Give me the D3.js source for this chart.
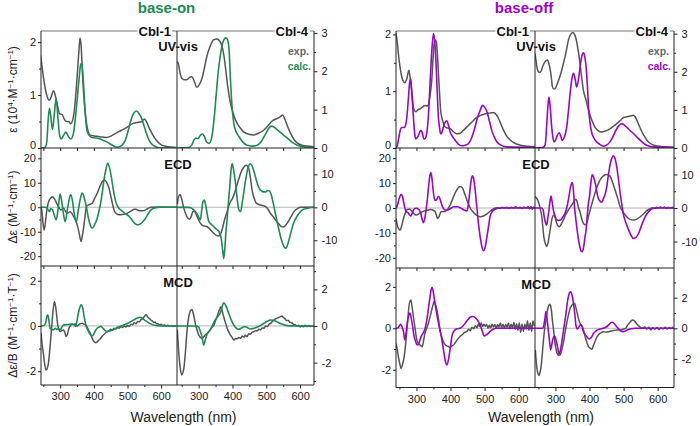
<!DOCTYPE html>
<html>
<head>
<meta charset="utf-8">
<script src="https://cdn.jsdelivr.net/npm/d3@7"></script>
<style>
  body { margin: 0; background: #fff; }
  svg { display: block; font-family: "Liberation Sans", Arial, sans-serif; }
</style>
</head>
<body>
<svg id="chart" width="700" height="426"></svg>
<script>
// ---------- data: [wavelength nm, value] ----------
// base-on, UV-vis (Cbl-1 left axis 10^4 M-1 cm-1, Cbl-4 right axis)
var onUvExp1 = [[242,1.75],[250,1.35],[260,1.0],[268,0.9],[274,0.98],[280,1.08],[286,0.98],[292,0.8],[298,0.65],[306,0.63],[312,0.55],[318,0.5],[325,0.5],[331,0.46],[338,0.55],[345,0.9],[352,1.5],[357,1.95],[359,2.08],[362,1.95],[367,1.3],[374,0.69],[380,0.4],[388,0.25],[398,0.23],[408,0.22],[420,0.21],[437,0.2],[452,0.23],[466,0.28],[481,0.33],[496,0.38],[515,0.46],[535,0.49],[543,0.5],[550,0.55],[556,0.5],[565,0.37],[575,0.25],[585,0.15],[600,0.06],[615,0.03],[645,0.01]];
var onUvCalc1 = [[243,0],[255,0.01],[260,0.1],[264,0.5],[268,0.75],[272,0.6],[277,0.35],[282,0.6],[288,0.94],[293,0.6],[298,0.25],[303,0.17],[310,0.24],[317,0.3],[324,0.22],[332,0.17],[340,0.3],[348,0.75],[356,1.3],[361,1.58],[364,1.6],[368,1.35],[373,0.8],[379,0.35],[386,0.24],[394,0.2],[405,0.19],[419,0.17],[433,0.13],[448,0.08],[462,0.03],[473,0.02],[483,0.05],[493,0.14],[503,0.35],[513,0.58],[520,0.67],[527,0.7],[534,0.65],[542,0.56],[549,0.42],[556,0.28],[563,0.16],[571,0.08],[585,0.02],[600,0],[645,0]];
var onUvExp4 = [[237,2.25],[240,2.2],[245,1.95],[250,1.82],[258,1.78],[265,1.78],[273,1.84],[280,1.86],[287,1.74],[295,1.58],[302,1.65],[310,1.82],[317,2.08],[324,2.38],[334,2.65],[344,2.82],[354,2.84],[362,2.79],[368,2.68],[374,2.45],[379,2.12],[386,1.6],[394,1.17],[404,0.85],[414,0.64],[423,0.52],[433,0.42],[448,0.36],[463,0.34],[478,0.39],[493,0.47],[505,0.58],[518,0.71],[533,0.77],[542,0.82],[548,0.86],[555,0.75],[563,0.56],[573,0.36],[583,0.21],[593,0.12],[603,0.08],[620,0.05],[640,0.03]];
var onUvCalc4 = [[237,0],[270,0.01],[280,0.08],[287,0.22],[292,0.26],[298,0.24],[305,0.33],[311,0.37],[317,0.3],[324,0.15],[331,0.12],[338,0.25],[345,0.7],[352,1.4],[358,2.0],[364,2.4],[370,2.7],[376,2.84],[381,2.87],[386,2.8],[390,2.55],[394,1.8],[399,1.05],[404,0.64],[411,0.42],[419,0.3],[430,0.16],[443,0.07],[458,0.05],[473,0.07],[485,0.17],[498,0.37],[508,0.52],[515,0.57],[522,0.55],[533,0.47],[548,0.36],[563,0.25],[578,0.14],[592,0.07],[610,0.03],[640,0.01]];

// base-on, ECD
var onEcdExp1 = [[243,0.3],[246,-2],[249,-6.5],[252,-9.3],[255,-7.5],[259,-2.5],[264,1.5],[268,3.0],[273,4.0],[277,4.3],[281,3.8],[285,3.0],[290,1.5],[295,0.3],[302,-1.1],[306,-0.8],[310,-0.4],[315,-1.5],[320,-2.4],[325,-2.2],[330,-1.8],[335,-2.6],[340,-3.8],[346,-5.5],[352,-7.9],[357,-11],[362,-14],[366,-11.5],[370,-7.9],[374,-3.5],[378,0.3],[385,1.0],[395,1.6],[402,3.5],[410,5.7],[418,8.5],[425,10.5],[432,11.1],[438,10.2],[445,7.8],[452,3.5],[460,-1.1],[467,-2.6],[475,-3.1],[485,-3.0],[500,-2.4],[512,-1.5],[520,-0.8],[525,-0.8],[532,-1.3],[540,-1.4],[550,-1.3],[560,-0.6],[570,0],[590,0.1],[645,0]];
var onEcdCalc1 = [[243,0],[255,0],[262,-0.5],[268,-1.8],[272,-0.5],[277,-1.0],[283,-3.5],[288,-5.2],[293,-1.5],[296,2.0],[300,5.4],[305,2.0],[310,-3.0],[315,-5.9],[320,-2.0],[325,2.0],[331,5.2],[336,3.0],[341,-2.0],[348,-5.9],[354,-1.0],[360,3.5],[365,5.8],[369,5.0],[374,2.5],[378,0],[384,-4.5],[390,-7.5],[395,-8.6],[401,-7.5],[410,-4.5],[416,-1.0],[420,1.6],[425,6],[430,11.1],[436,15.5],[441,18],[446,16.5],[452,12.4],[458,7],[465,2.3],[472,0],[480,-1.1],[492,-2.5],[505,-3.8],[515,-5.5],[523,-6.8],[530,-7.2],[538,-6.8],[546,-5.8],[552,-4.8],[560,-3.0],[570,-1.1],[580,-0.3],[600,0],[645,0]];
var onEcdExp4 = [[237,1.0],[240,3.0],[245,3.9],[250,2.5],[255,0.2],[260,-1.5],[265,-2.8],[273,-3.6],[278,-2.8],[283,-1.3],[288,-1.2],[294,-2.5],[300,-3.8],[305,-4.8],[310,-5.4],[318,-5.7],[325,-5.9],[335,-6.8],[345,-7.9],[352,-8.5],[359,-8.7],[364,-8.3],[369,-6.9],[376,-4.0],[384,-1.3],[389,0.5],[394,1.7],[399,2.5],[404,3.7],[414,7.0],[424,10.3],[432,12.0],[440,12.8],[448,11.8],[453,9.0],[458,5.2],[464,2.8],[471,1.2],[483,0.7],[498,0.2],[505,-0.6],[512,-1.8],[520,-2.8],[527,-3.8],[535,-4.8],[543,-5.7],[550,-6.0],[556,-5.6],[562,-4.8],[572,-3.0],[582,-1.3],[592,-0.4],[602,0],[640,0]];
var onEcdCalc4 = [[237,0],[270,0],[280,-0.3],[290,-1.3],[298,-2.5],[305,-3.8],[309,-1.0],[313,1.8],[317,2.2],[321,0.5],[326,-2.5],[330,-4.3],[338,-5.2],[345,-5.9],[352,-6.6],[360,-7.4],[366,-9],[371,-13],[374,-15.5],[377,-13],[381,-7],[384,-3.8],[388,1.5],[392,6.3],[396,11.5],[399,13.3],[403,11.5],[409,7.3],[414,2.5],[419,-0.8],[424,-1.3],[429,1.5],[434,5],[440,9],[446,12],[452,13.2],[457,12.8],[463,11],[470,8.5],[477,6.2],[485,5.0],[492,4.7],[498,4.7],[504,5.1],[509,5.0],[514,4.0],[520,1.5],[526,-1.5],[533,-4.8],[540,-8],[548,-10.9],[554,-12.2],[558,-12.4],[564,-11],[572,-7.9],[580,-5],[590,-2.8],[597,-1.8],[610,-0.6],[622,-0.3],[640,0]];

// base-on, MCD
var onMcdExp1 = [[243,-0.3],[247,-0.9],[250,-1.2],[254,-1.7],[258,-1.95],[262,-1.85],[265,-1.65],[270,-0.9],[275,0],[279,0.7],[283,1.08],[287,0.8],[292,0.12],[296,-0.15],[300,-0.25],[305,-0.2],[310,-0.18],[314,-0.3],[318,-0.47],[322,-0.35],[326,-0.1],[330,0],[335,0.08],[340,0.05],[345,0.1],[350,0],[355,0.05],[360,0.1],[365,0.12],[370,0.08],[375,0.05],[380,-0.05],[385,-0.2],[390,-0.35],[395,-0.55],[400,-0.68],[405,-0.74],[410,-0.7],[415,-0.62],[420,-0.55],[425,-0.45],[430,-0.38],[435,-0.3],[440,-0.25],[445,-0.22],[450,-0.15],[455,-0.18],[460,-0.1],[465,-0.14],[470,-0.06],[475,-0.1],[480,-0.02],[485,-0.07],[490,0],[495,-0.05],[500,0.02],[505,-0.02],[510,0.08],[515,0.05],[520,0.14],[525,0.1],[530,0.2],[535,0.18],[540,0.28],[545,0.32],[550,0.42],[555,0.49],[558,0.45],[562,0.36],[566,0.32],[570,0.25],[574,0.22],[578,0.15],[582,0.17],[586,0.1],[590,0.1],[595,0.05],[600,0.07],[605,0.02],[610,0.04],[615,0],[620,0.03],[625,-0.01],[630,0.02],[635,-0.02],[640,0.01],[645,0]];
var onMcdCalc1 = [[243,0],[252,0.02],[257,0.15],[260,0.4],[263,0.49],[266,0.3],[270,-0.1],[275,-0.15],[280,-0.18],[285,-0.1],[290,-0.15],[295,-0.12],[300,-0.18],[305,-0.05],[310,0.04],[318,0.06],[326,0.07],[335,0.08],[342,0.05],[346,-0.02],[352,0.41],[357,0.75],[362,0.93],[366,0.85],[372,0.34],[377,0],[382,-0.18],[390,-0.4],[395,-0.44],[400,-0.35],[405,-0.2],[410,-0.1],[416,-0.05],[421,-0.02],[428,-0.12],[435,-0.22],[440,-0.25],[447,-0.22],[455,-0.18],[470,-0.08],[490,0.05],[505,0.15],[519,0.27],[530,0.35],[537,0.38],[545,0.33],[552,0.25],[560,0.17],[570,0.08],[585,0.02],[600,0],[645,0]];
var onMcdExp4 = [[237,-0.2],[240,-1.13],[245,-2.2],[250,-2.67],[254,-2.5],[257,-2.2],[261,-1.4],[265,-0.4],[269,0.3],[273,0.69],[277,0.88],[280,0.91],[284,0.7],[290,0.15],[295,-0.2],[300,-0.49],[305,-0.62],[310,-0.67],[315,-0.6],[320,-0.48],[325,-0.42],[330,-0.31],[338,-0.1],[345,0.05],[350,0.3],[354,0.5],[360,0.82],[366,1.05],[370,0.8],[374,0.51],[379,0.2],[384,-0.1],[389,-0.32],[394,-0.49],[399,-0.62],[404,-0.76],[409,-0.68],[414,-0.7],[419,-0.62],[424,-0.67],[429,-0.55],[434,-0.6],[438,-0.5],[443,-0.58],[448,-0.42],[453,-0.45],[458,-0.33],[463,-0.31],[468,-0.25],[473,-0.27],[478,-0.18],[483,-0.2],[488,-0.1],[493,-0.12],[498,0],[503,-0.03],[508,0.1],[513,0.15],[518,0.25],[523,0.33],[528,0.4],[534,0.45],[540,0.5],[546,0.55],[550,0.48],[555,0.4],[560,0.3],[565,0.3],[570,0.2],[575,0.18],[580,0.1],[585,0.08],[590,0],[595,0.04],[600,-0.05],[605,0.03],[610,-0.04],[615,0.04],[620,-0.02],[625,0.03],[630,-0.03],[635,0.02],[640,0]];
var onMcdCalc4 = [[237,0],[290,0],[300,-0.05],[305,-0.3],[310,-0.58],[315,-1.04],[319,-0.8],[324,-0.49],[330,-0.3],[334,-0.22],[340,0],[345,0.2],[349,0.33],[355,0.5],[360,0.6],[364,0.72],[368,0.95],[371,1.15],[374,1.27],[378,1.2],[383,1.0],[389,0.69],[396,0.35],[404,0.05],[411,-0.12],[419,-0.18],[427,-0.1],[435,-0.04],[441,-0.05],[447,-0.12],[453,-0.16],[460,-0.14],[470,-0.08],[480,0],[493,0.15],[503,0.26],[512,0.33],[520,0.32],[530,0.25],[540,0.15],[555,0.05],[570,0.01],[600,0],[640,0]];

// base-off, UV-vis
var offUvExp1 = [[240,2.02],[244,1.85],[247,1.66],[252,1.42],[257,1.25],[262,1.17],[266,1.15],[270,1.19],[273,1.25],[276,1.34],[278,1.37],[280,1.3],[284,1.14],[288,0.9],[291,0.72],[295,0.65],[298,0.64],[304,0.67],[311,0.69],[318,0.72],[325,0.75],[332,0.74],[336,0.78],[340,0.92],[345,1.2],[349,1.6],[352,1.84],[355,1.9],[358,1.88],[361,1.7],[364,1.37],[368,0.95],[371,0.66],[377,0.48],[384,0.37],[392,0.35],[399,0.34],[408,0.29],[418,0.25],[428,0.26],[438,0.31],[448,0.37],[458,0.43],[468,0.49],[477,0.54],[487,0.57],[497,0.59],[511,0.61],[520,0.62],[528,0.62],[535,0.58],[541,0.52],[548,0.42],[556,0.31],[565,0.21],[575,0.14],[590,0.08],[605,0.05],[625,0.03],[648,0.02]];
var offUvCalc1 = [[240,0],[244,0.05],[247,0.14],[252,0.3],[257,0.36],[264,0.36],[268,0.4],[272,0.55],[276,0.84],[280,1.15],[283,1.22],[286,1.0],[291,0.55],[295,0.25],[298,0.16],[302,0.18],[306,0.22],[310,0.29],[313,0.31],[317,0.27],[322,0.16],[326,0.17],[330,0.25],[335,0.55],[340,1.14],[345,1.7],[350,2.02],[354,1.85],[358,1.43],[361,1.0],[364,0.58],[368,0.35],[371,0.25],[375,0.28],[379,0.37],[384,0.45],[389,0.48],[394,0.4],[399,0.28],[406,0.2],[413,0.14],[423,0.07],[433,0.04],[443,0.05],[453,0.08],[462,0.18],[472,0.37],[480,0.55],[487,0.66],[494,0.75],[500,0.72],[507,0.64],[514,0.48],[521,0.31],[528,0.2],[536,0.11],[548,0.05],[565,0.02],[648,0.01]];
var offUvExp4 = [[240,2.48],[243,2.3],[246,2.1],[250,2.0],[254,1.98],[258,2.02],[263,2.15],[269,2.26],[273,2.29],[277,2.31],[281,2.2],[284,2.09],[288,1.85],[291,1.61],[295,1.55],[299,1.56],[306,1.7],[313,1.87],[320,2.1],[328,2.39],[333,2.6],[338,2.83],[344,2.97],[351,3.03],[356,2.98],[360,2.88],[366,2.6],[372,2.22],[377,1.85],[382,1.52],[390,1.25],[397,0.99],[406,0.75],[416,0.55],[426,0.45],[436,0.42],[448,0.45],[461,0.51],[470,0.57],[480,0.64],[490,0.72],[500,0.8],[510,0.82],[520,0.84],[529,0.86],[534,0.82],[539,0.73],[546,0.58],[554,0.42],[563,0.28],[573,0.16],[585,0.09],[598,0.05],[620,0.03],[648,0.02]];
var offUvCalc4 = [[240,0],[262,0.01],[269,0.07],[272,0.25],[274,0.55],[278,1.1],[281,1.34],[284,1.15],[289,0.55],[293,0.25],[296,0.16],[300,0.2],[305,0.32],[311,0.4],[316,0.3],[320,0.2],[326,0.28],[333,0.55],[338,0.95],[343,1.43],[348,1.8],[353,1.96],[358,1.8],[362,1.6],[366,1.72],[370,1.96],[375,2.3],[380,2.48],[383,2.5],[387,2.35],[390,2.13],[394,1.6],[397,1.08],[401,0.7],[406,0.42],[413,0.26],[421,0.16],[431,0.09],[441,0.05],[451,0.08],[460,0.16],[470,0.32],[480,0.51],[488,0.6],[495,0.64],[502,0.6],[509,0.55],[519,0.46],[529,0.38],[539,0.29],[549,0.2],[558,0.13],[568,0.07],[585,0.03],[648,0.01]];

// base-off, ECD
var offEcdExp1 = [[240,-4.2],[244,-7],[247,-8.2],[252,-8.9],[256,-7.5],[262,-4.2],[266,-2.5],[271,-0.8],[276,-0.5],[281,-0.5],[286,-1.2],[291,-2.1],[296,-2.7],[301,-2.8],[306,-2.4],[311,-2.1],[316,-1.6],[321,-1.3],[328,-1.0],[335,-0.8],[340,-0.6],[345,-0.7],[350,-1.0],[355,-1.5],[359,-3.0],[362,-4.2],[366,-3.6],[372,-1.5],[378,-1.4],[384,-1.4],[389,-0.9],[394,-0.1],[400,1.5],[409,4.6],[418,7.2],[428,8.6],[435,8.0],[443,5.2],[450,2.5],[458,-0.1],[466,-1.5],[475,-2.8],[487,-3.5],[497,-3.2],[507,-2.4],[516,-1.3],[526,-0.4],[532,0],[538,0.1],[545,-0.1],[552,0.3],[558,0],[565,0.3],[572,-0.1],[578,0.3],[585,0.1],[592,0.5],[598,0],[604,0.3],[610,-0.2],[616,0.4],[622,0],[628,0.6],[632,-0.3],[636,0.6],[640,-0.5],[644,0.4],[648,-0.2]];
var offEcdCalc1 = [[240,0],[244,1.0],[247,2.6],[252,4.8],[255,5.5],[259,4.6],[263,2.0],[267,-0.5],[271,-1.5],[276,-2.0],[280,-2.8],[284,-3.2],[288,-2.0],[292,-0.6],[297,-0.2],[301,-0.1],[306,-0.5],[310,-1.2],[315,-3.5],[320,-5.9],[324,-4.5],[328,-1.0],[332,3.5],[336,9],[339,12.5],[342,14.2],[345,12.5],[348,8.5],[351,5.0],[355,3.0],[360,3.5],[364,4.6],[367,4.4],[371,2.8],[375,1.0],[380,-0.3],[385,-0.8],[392,-0.8],[400,-0.2],[409,0.5],[420,0.5],[430,0],[440,-0.8],[448,-1.2],[452,1.0],[456,5.9],[460,10.5],[464,12.9],[467,12.3],[471,9.0],[475,3.5],[479,-2.0],[482,-6.2],[487,-11.5],[492,-15.5],[497,-17.2],[502,-15.5],[507,-11.5],[512,-7.0],[516,-3.5],[522,-1.5],[531,-0.5],[545,0],[648,0]];
var offEcdExp4 = [[240,3.4],[244,3.0],[250,1.9],[255,0],[260,-2.6],[266,-8.6],[270,-10.5],[274,-11.5],[278,-10.5],[282,-8.1],[286,-5.5],[289,-3.6],[292,-2.5],[296,-2.1],[300,-3.2],[304,-4.6],[308,-5.4],[311,-5.6],[316,-5.0],[323,-3.6],[330,-2.0],[338,-0.6],[345,0.5],[352,1.5],[357,2.4],[360,2.6],[364,1.8],[368,0],[372,-1.1],[377,-3.2],[382,-4.6],[387,-5.0],[392,-4.5],[397,-2.5],[402,-0.6],[409,2.0],[416,4.4],[424,6.8],[431,8.4],[440,9.5],[446,9.9],[451,10.0],[456,9.8],[461,9.4],[468,7.5],[475,5.4],[483,2.8],[490,0.4],[497,-0.9],[505,-2.1],[512,-2.9],[519,-3.4],[529,-3.6],[539,-3.3],[549,-2.6],[559,-1.7],[568,-0.8],[578,-0.2],[585,0.1],[590,-0.1],[596,0.2],[602,0],[608,0.3],[614,0.1],[620,0.3],[626,-0.1],[632,0.2],[638,0],[644,0.2],[648,0]];
var offEcdCalc4 = [[240,0],[260,0],[264,-0.6],[267,-2.6],[271,-4.5],[274,-5.1],[277,-3.5],[281,-0.6],[284,2.0],[287,3.6],[290,2.0],[294,-0.6],[299,-2.5],[304,-3.6],[310,-3.7],[315,-3.6],[322,-2.6],[328,-1.6],[333,0],[338,2.4],[343,5.5],[347,7.3],[350,7.6],[353,5.0],[356,0.4],[360,-3.5],[364,-6.8],[368,-9.6],[372,-11.8],[376,-12.9],[379,-13.0],[383,-11.5],[387,-8.5],[390,-6.6],[394,-1.5],[397,1.5],[400,3.4],[404,7.5],[408,10.0],[412,9.2],[418,6.9],[422,4.5],[426,2.9],[431,2.0],[436,1.7],[441,2.8],[446,4.2],[449,5.4],[455,9.5],[461,13.3],[466,15.0],[470,15.6],[474,15.0],[480,12.3],[485,8.5],[490,4.4],[495,1.0],[500,-2.1],[507,-4.5],[515,-6.6],[522,-8.2],[529,-9.1],[536,-8.8],[544,-7.6],[551,-5.7],[559,-3.6],[568,-1.8],[578,-0.6],[590,-0.1],[600,0],[648,0]];

// base-off, MCD
var offMcdExp1 = [[240,-0.73],[244,-1.05],[247,-1.37],[251,-1.7],[255,-1.94],[259,-1.75],[264,-1.37],[268,-0.8],[271,-0.24],[275,0.5],[278,1.05],[281,1.3],[284,1.37],[287,1.05],[291,0.56],[296,0],[301,-0.56],[306,-0.75],[311,-0.81],[317,-0.89],[321,-0.6],[325,-0.24],[330,0],[335,0.24],[340,0.55],[345,0.89],[349,1.15],[352,1.29],[356,1.15],[360,0.89],[365,0.4],[369,-0.08],[374,-0.4],[379,-0.65],[384,-0.78],[389,-0.85],[394,-0.88],[399,-0.92],[404,-0.85],[409,-0.81],[414,-0.7],[420,-0.55],[428,-0.4],[435,-0.3],[441,-0.2],[448,-0.16],[453,-0.05],[458,-0.12],[463,0.05],[468,-0.02],[473,0.12],[478,0.02],[482,0.22],[486,0.08],[490,0.25],[494,0.08],[498,0.2],[502,0.1],[506,0.18],[510,0],[514,0.15],[518,0.02],[522,0.2],[526,0.06],[530,0.18],[534,0],[538,0.18],[542,0.05],[546,0.25],[550,0.03],[554,0.2],[558,0],[562,0.18],[566,0.05],[570,0.25],[574,-0.02],[578,0.2],[582,0.02],[586,0.28],[590,-0.05],[594,0.22],[598,-0.1],[602,0.25],[606,-0.2],[610,0.2],[614,-0.15],[618,0.2],[622,-0.05],[626,0.35],[630,-0.1],[634,0.25],[638,-0.15],[642,0.35],[646,0.1]];
var offMcdCalc1 = [[240,0],[246,0.02],[250,0.12],[254,0.19],[258,0.05],[262,-0.16],[266,-0.56],[269,-0.3],[273,0.24],[277,0.6],[281,0.73],[285,0.45],[289,0.08],[292,-0.3],[296,-0.56],[300,-0.75],[304,-0.81],[308,-0.7],[312,-0.48],[317,-0.3],[322,-0.16],[327,0.1],[332,0.56],[336,1.05],[340,1.53],[343,1.85],[346,1.98],[349,1.8],[353,1.37],[358,0.85],[363,0.4],[368,0],[373,-0.4],[377,-0.8],[381,-1.21],[385,-1.6],[389,-1.77],[393,-1.6],[397,-1.21],[401,-0.75],[404,-0.4],[408,-0.2],[413,-0.08],[420,-0.02],[428,0],[436,0.1],[443,0.24],[450,0.4],[458,0.53],[464,0.57],[470,0.55],[476,0.45],[482,0.32],[487,0.15],[492,-0.08],[496,-0.28],[499,-0.37],[504,-0.33],[509,-0.27],[516,-0.15],[525,-0.05],[535,0],[648,0]];
var offMcdExp4 = [[241,-1.41],[243,-2.0],[245,-2.5],[248,-2.9],[251,-3.09],[254,-2.95],[258,-2.5],[261,-1.8],[264,-0.98],[268,-0.1],[272,0.54],[276,1.1],[280,1.45],[284,1.57],[288,1.2],[291,0.54],[295,-0.2],[299,-0.98],[302,-1.4],[306,-1.7],[310,-1.76],[314,-1.74],[318,-1.45],[323,-0.98],[328,-0.3],[333,0.33],[338,0.85],[343,1.3],[348,1.5],[352,1.6],[356,1.63],[360,1.35],[364,0.98],[368,0.6],[372,0.33],[376,0.2],[379,0.11],[383,-0.15],[387,-0.54],[392,-0.9],[397,-1.2],[402,-1.3],[407,-1.37],[411,-1.15],[416,-0.87],[421,-0.6],[426,-0.43],[433,-0.3],[441,-0.22],[450,-0.25],[460,-0.2],[470,-0.15],[480,-0.11],[490,-0.12],[500,-0.05],[506,0],[512,0.22],[518,0.38],[523,0.5],[527,0.54],[533,0.45],[539,0.28],[545,0.15],[550,0.05],[556,0],[562,0.08],[568,-0.05],[574,0.06],[580,-0.1],[586,0.04],[592,-0.06],[598,0.05],[604,-0.08],[610,0.03],[616,-0.05],[622,0.06],[628,-0.04],[634,0.05],[640,-0.02],[646,0.1]];
var offMcdCalc4 = [[241,0],[262,0],[266,0.2],[269,0.6],[272,1.09],[275,0.7],[279,-0.11],[283,-0.9],[286,-1.41],[289,-1.1],[292,-0.76],[295,-0.55],[298,-0.5],[302,-0.8],[306,-1.2],[309,-1.55],[311,-1.7],[315,-1.4],[321,-0.54],[326,0.2],[331,0.98],[335,1.7],[338,2.07],[342,2.35],[345,2.39],[349,2.15],[353,1.63],[357,0.9],[360,0.22],[364,-0.05],[368,0.05],[372,0.2],[374,0.22],[378,0.1],[382,-0.22],[387,-0.4],[392,-0.54],[396,-0.65],[399,-0.7],[405,-0.6],[412,-0.33],[420,-0.15],[430,-0.05],[440,0],[450,0.1],[456,0.22],[462,0.35],[466,0.39],[472,0.33],[478,0.15],[484,0],[490,-0.15],[498,-0.22],[505,-0.18],[512,-0.1],[522,-0.03],[535,0],[648,0]];

// ---------- ticks and labels ----------
var rowNames = ["UV-vis", "ECD", "MCD"];
var leftMajor = [[0, 1, 2], [-20, -10, 0, 10, 20], [-2, 0, 2]];
var leftMinor = [[0.5, 1.5], [-15, -5, 5, 15], [-1, 1]];
var rightMajor = [[0, 1, 2, 3], [-10, 0, 10], [-2, 0, 2]];
var rightMinor = [[0.5, 1.5, 2.5], [-15, -5, 5, 15], [-3, -1, 1, 3]];
var wlMajor = [300, 400, 500, 600];
var wlMinor = [250, 350, 450, 550];
var yTitles = ["ε (10|4|·M|-1|·cm|-1|)", "Δε (M|-1|·cm|-1|)", "Δε/B (M|-1|·cm|-1|·T|-1|)"];

var grey = "#555555";

var panels = [
  {
    title: "base-on", color: "#1e8a56",
    x0: 41, xm: 177, x1: 314, rows: [31, 148, 266, 385],
    dom1: [243, 647], dom4: [236, 641],
    yL: [[0, 2.21], [-24, 24.2], [-2.61, 2.65]],
    yR: [[0, 3.05], [-17.8, 18], [-3.22, 3.28]],
    curves: [[onUvExp1, onUvCalc1, onUvExp4, onUvCalc4],
             [onEcdExp1, onEcdCalc1, onEcdExp4, onEcdCalc4],
             [onMcdExp1, onMcdCalc1, onMcdExp4, onMcdCalc4]],
    yTitle: true
  },
  {
    title: "base-off", color: "#9a06c8",
    x0: 396, xm: 535, x1: 674, rows: [31, 148, 268, 387.5],
    dom1: [240, 648], dom4: [240, 648],
    yL: [[0, 2.06], [-24.1, 24.1], [-2.86, 2.91]],
    yR: [[0, 3.07], [-17.9, 17.9], [-3.87, 3.94]],
    curves: [[offUvExp1, offUvCalc1, offUvExp4, offUvCalc4],
             [offEcdExp1, offEcdCalc1, offEcdExp4, offEcdCalc4],
             [offMcdExp1, offMcdCalc1, offMcdExp4, offMcdCalc4]],
    yTitle: false
  }
];

var svg = d3.select("#chart");
var defs = svg.append("defs");
var clipId = 0;

function fmt(d) { return String(d); }

// text with "|sup|" parts as superscripts
function richText(sel, str) {
  str.split("|").forEach(function (part, i) {
    if (!part) return;
    if (i % 2 === 1) {
      sel.append("tspan").attr("baseline-shift", "super").attr("font-size", "8px").text(part.replace("-", "\u2212"));
    } else {
      sel.append("tspan").text(part);
    }
  });
}

panels.forEach(function (p) {
  var g = svg.append("g");
  var halves = [
    { a: p.x0, b: p.xm, dom: p.dom1 },
    { a: p.xm, b: p.x1, dom: p.dom4 }
  ];
  var xs = halves.map(function (h) {
    return d3.scaleLinear().domain(h.dom).range([h.a, h.b]);
  });

  for (var r = 0; r < 3; r++) {
    var top = p.rows[r], bot = p.rows[r + 1];
    var yL = d3.scaleLinear().domain(p.yL[r]).range([bot, top]);
    var yR = d3.scaleLinear().domain(p.yR[r]).range([bot, top]);

    // zero line
    if (r > 0) {
      g.append("line")
        .attr("x1", p.x0).attr("x2", p.x1)
        .attr("y1", yL(0)).attr("y2", yL(0))
        .attr("stroke", "#b4b4b4").attr("stroke-width", 1);
    }

    // curves
    [0, 1].forEach(function (hi) {
      var h = halves[hi], x = xs[hi], y = hi === 0 ? yL : yR;
      var id = "clip" + (clipId++);
      defs.append("clipPath").attr("id", id)
        .append("rect").attr("x", h.a).attr("y", top)
        .attr("width", h.b - h.a).attr("height", bot - top);
      var line = d3.line()
        .x(function (d) { return x(d[0]); })
        .y(function (d) { return y(d[1]); })
        .curve(d3.curveMonotoneX);
      var cg = g.append("g").attr("clip-path", "url(#" + id + ")");
      cg.append("path").datum(p.curves[r][hi * 2])
        .attr("d", line).attr("fill", "none")
        .attr("stroke", grey).attr("stroke-width", 1.5).attr("stroke-linejoin", "round");
      cg.append("path").datum(p.curves[r][hi * 2 + 1])
        .attr("d", line).attr("fill", "none")
        .attr("stroke", p.color).attr("stroke-width", 1.6).attr("stroke-linejoin", "round");
    });

    // y axes
    var aL = g.append("g").attr("transform", "translate(" + p.x0 + ",0)")
      .call(d3.axisLeft(yL).tickValues(leftMajor[r]).tickSize(3).tickPadding(2).tickFormat(fmt));
    if (r === 0) {
      // the UV-vis "0" sits just above the ECD "20"
      aL.selectAll(".tick text").filter(function (d) { return d === 0; }).attr("dy", "0.05em");
    }
    g.append("g").attr("transform", "translate(" + p.x0 + ",0)")
      .call(d3.axisLeft(yL).tickValues(leftMinor[r]).tickSize(2).tickFormat(""));
    g.append("g").attr("transform", "translate(" + p.x1 + ",0)")
      .call(d3.axisRight(yR).tickValues(rightMajor[r]).tickSize(3.5).tickPadding(4).tickFormat(fmt));
    g.append("g").attr("transform", "translate(" + p.x1 + ",0)")
      .call(d3.axisRight(yR).tickValues(rightMinor[r]).tickSize(2).tickFormat(""));

    // inward wavelength ticks on the top edge of ECD and MCD rows
    if (r > 0) {
      xs.forEach(function (x) {
        g.append("g").attr("transform", "translate(0," + top + ")")
          .call(d3.axisBottom(x).tickValues(wlMajor.concat(wlMinor)).tickSize(3).tickFormat(""));
      });
    }

    // row label
    g.append("text")
      .attr("x", p.xm + 1).attr("y", top + (r === 0 ? 20 : 21))
      .attr("text-anchor", "middle")
      .attr("font-size", "13px").attr("font-weight", "bold").attr("fill", "#111")
      .text(rowNames[r]);

    if (p.yTitle) {
      var t = g.append("text")
        .attr("transform", "translate(17," + ((top + bot) / 2) + ") rotate(-90)")
        .attr("text-anchor", "middle")
        .attr("font-size", "12px").attr("fill", "#222");
      richText(t, yTitles[r]);
    }
  }

  // bottom wavelength axes
  xs.forEach(function (x) {
    g.append("g").attr("transform", "translate(0," + p.rows[3] + ")")
      .call(d3.axisBottom(x).tickValues(wlMajor).tickSize(3.5).tickPadding(4).tickFormat(fmt));
    g.append("g").attr("transform", "translate(0," + p.rows[3] + ")")
      .call(d3.axisBottom(x).tickValues(wlMinor).tickSize(2).tickFormat(""));
  });

  g.selectAll(".domain").remove();
  g.selectAll(".tick line").attr("stroke", "#222");
  g.selectAll(".tick text").attr("font-size", "11px").attr("fill", "#222")
    .attr("font-family", "'Liberation Sans', Arial, sans-serif");

  // frame
  var fy0 = p.rows[0], fy1 = p.rows[3];
  g.append("line").attr("x1", p.x0).attr("x2", p.x1).attr("y1", fy0).attr("y2", fy0)
    .attr("stroke", "#777").attr("stroke-width", 1.2);
  [p.x0, p.xm, p.x1].forEach(function (xx) {
    g.append("line").attr("x1", xx).attr("x2", xx).attr("y1", fy0).attr("y2", fy1)
      .attr("stroke", "#222").attr("stroke-width", 1);
  });
  [p.rows[1], p.rows[2], p.rows[3]].forEach(function (yy) {
    g.append("line").attr("x1", p.x0).attr("x2", p.x1).attr("y1", yy).attr("y2", yy)
      .attr("stroke", "#222").attr("stroke-width", 1);
  });

  // Cbl labels sitting on the top line
  [["Cbl-1", p.xm - 6], ["Cbl-4", p.x1 - 6]].forEach(function (c) {
    var lab = g.append("text")
      .attr("x", c[1]).attr("y", fy0 + 4.5)
      .attr("text-anchor", "end")
      .attr("font-size", "13px").attr("font-weight", "bold").attr("fill", "#111")
      .text(c[0]);
    var bb = lab.node().getBBox();
    g.insert("rect", function () { return lab.node(); })
      .attr("x", bb.x - 1).attr("y", fy0 - 2).attr("width", bb.width + 2).attr("height", 4)
      .attr("fill", "#fff");
  });

  // legend
  g.append("text").attr("x", p.x1 - 5).attr("y", 55).attr("text-anchor", "end")
    .attr("font-size", "10.5px").attr("font-weight", "bold").attr("fill", "#666").text("exp.");
  g.append("text").attr("x", p.x1 - 3).attr("y", 70).attr("text-anchor", "end")
    .attr("font-size", "10.5px").attr("font-weight", "bold").attr("fill", p.color).text("calc.");

  // title
  g.append("text").attr("x", (p.x0 + p.x1) / 2 - 11).attr("y", 13)
    .attr("text-anchor", "middle")
    .attr("font-size", "15px").attr("font-weight", "bold").attr("fill", p.color)
    .text(p.title);

  // x title
  g.append("text").attr("x", (p.x0 + p.x1) / 2 + 6).attr("y", 422)
    .attr("text-anchor", "middle")
    .attr("font-size", "14px").attr("fill", "#222")
    .text("Wavelength (nm)");
});
</script>
</body>
</html>
